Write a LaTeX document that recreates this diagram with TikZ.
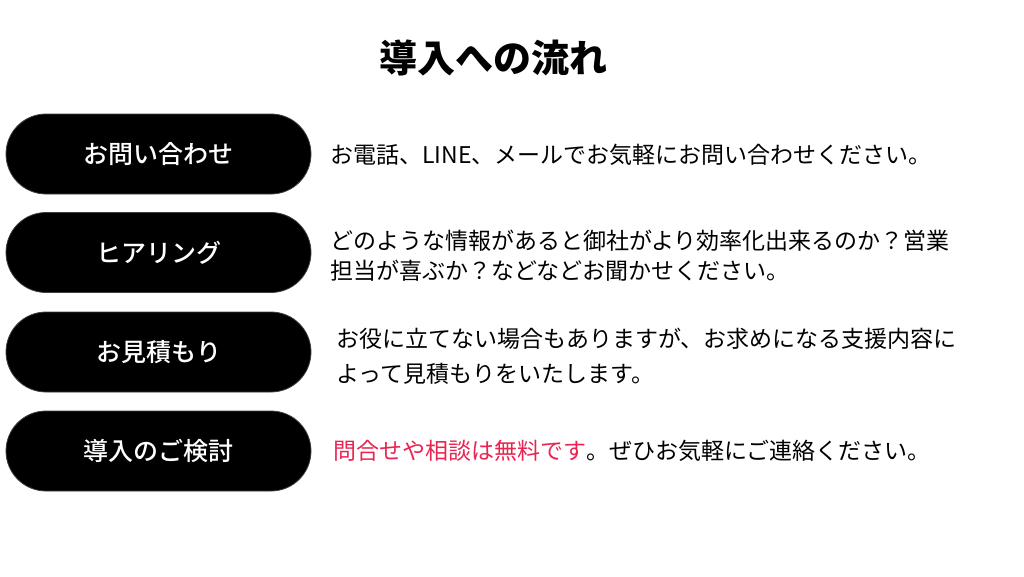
\documentclass[tikz,border=0pt]{standalone}
\usepackage{fontspec}
\usepackage{xcolor}
\usepackage{tikz}
\usetikzlibrary{positioning}
\newfontfamily\jpfont{Noto Sans CJK JP}
\newfontfamily\jpmedium{Noto Sans CJK JP Medium}
\definecolor{accentred}{RGB}{233,36,80}
\tikzstyle{stepbox}=[rectangle,rounded corners=40pt,fill=black,draw=black!75,line width=0.8pt,minimum width=305pt,minimum height=80pt,inner sep=0pt]
\tikzstyle{steplabel}=[text=white,font=\jpmedium\fontsize{25}{28}\selectfont]
\tikzstyle{desc}=[anchor=west,inner sep=0pt,align=left,font=\jpfont\fontsize{23}{30}\selectfont]
\begin{document}
\begin{tikzpicture}[x=1pt,y=-1pt]

 \useasboundingbox (0,0) rectangle (1024,576);

 %Title
 \node[font=\jpfont\bfseries\fontsize{38}{42}\selectfont] (title) at (493,58) {導入への流れ};

 %Steps
   \foreach \x/\y/\name/\label in {158.5/154/s1/お問い合わせ, 158.5/252.5/s2/ヒアリング, 158.5/352/s3/お見積もり, 158.5/451/s4/導入のご検討}
          \node[stepbox,steplabel] (\name) at (\x,\y) {\label};

 %Descriptions
 \node[desc] (d1) at (330,155) {お電話、LINE、メールでお気軽にお問い合わせください。};
 \node[desc] (d2) at (330,256) {どのような情報があると御社がより効率化出来るのか？営業\\担当が喜ぶか？などなどお聞かせください。};
 \node[desc,font=\jpfont\fontsize{23}{35}\selectfont] (d3) at (336,356) {お役に立てない場合もありますが、お求めになる支援内容に\\よって見積もりをいたします。};
 \node[desc] (d4) at (333,451) {\textcolor{accentred}{問合せや相談は無料です}。ぜひお気軽にご連絡ください。};

\end{tikzpicture}
\end{document}
